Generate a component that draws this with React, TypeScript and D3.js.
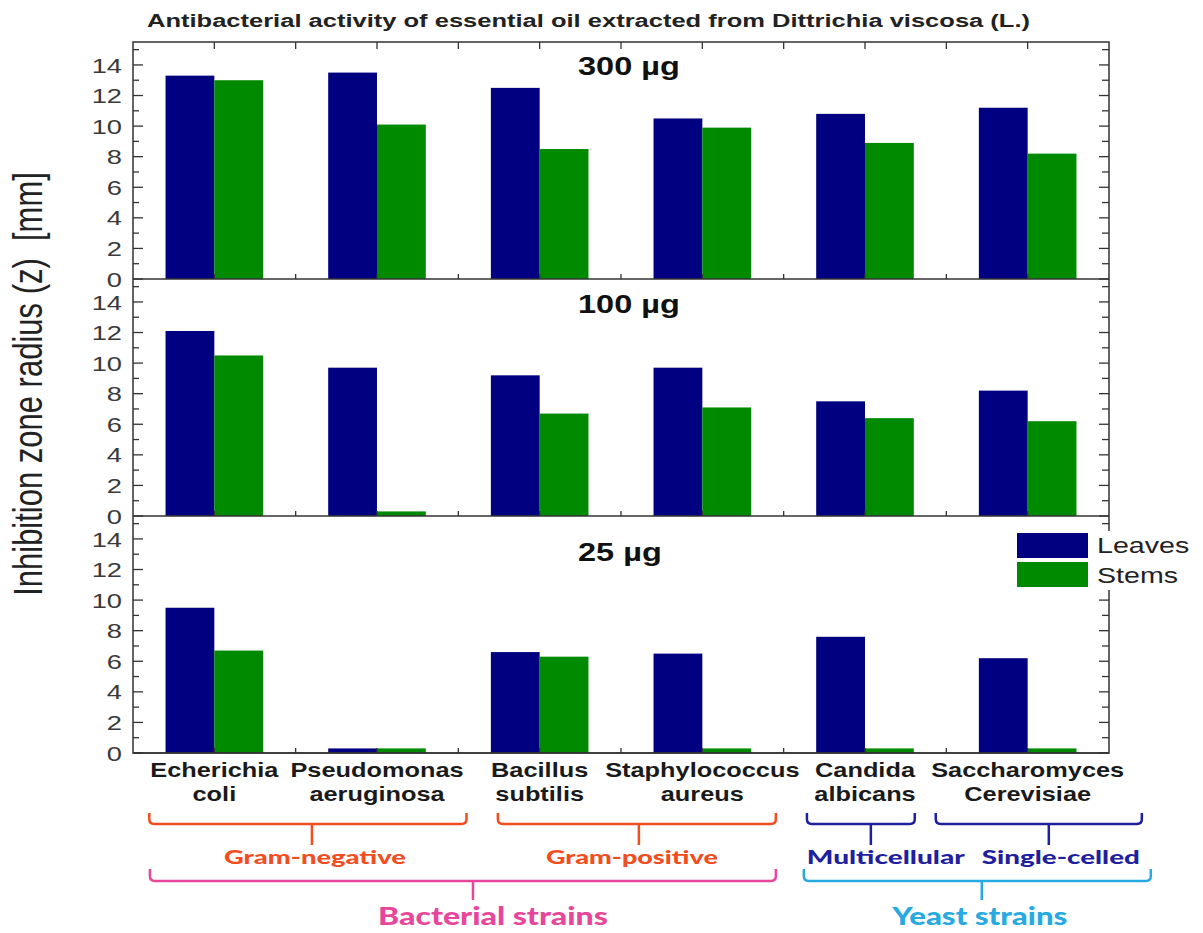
import React from 'react';
import * as d3 from 'd3';

// ---------- data ----------
const categoriesLine1 = ['Echerichia', 'Pseudomonas', 'Bacillus', 'Staphylococcus', 'Candida', 'Saccharomyces'];
const categoriesLine2 = ['coli', 'aeruginosa', 'subtilis', 'aureus', 'albicans', 'Cerevisiae'];
const doseLabels = ['300 \u00b5g', '100 \u00b5g', '25 \u00b5g'];
const seriesNames = ['Leaves', 'Stems'];

const leaves300 = [13.3, 13.5, 12.5, 10.5, 10.8, 11.2];
const stems300 = [13.0, 10.1, 8.5, 9.9, 8.9, 8.2];
const leaves100 = [12.1, 9.7, 9.2, 9.7, 7.5, 8.2];
const stems100 = [10.5, 0.3, 6.7, 7.1, 6.4, 6.2];
const leaves25 = [9.5, 0.3, 6.6, 6.5, 7.6, 6.2];
const stems25 = [6.7, 0.3, 6.3, 0.3, 0.3, 0.3];

const yTickValues = [0, 2, 4, 6, 8, 10, 12, 14];
const yMinorValues = [1, 3, 5, 7, 9, 11, 13, 15];

// bracket annotations (positions in category-index units)
const groupLabels = ['Gram-negative', 'Gram-positive', 'Multicellular', 'Single-celled', 'Bacterial strains', 'Yeast strains'];
const groupFrom = [-0.4, 1.743, 3.643, 4.435, -0.396, 3.624];
const groupTo = [1.55, 3.452, 4.306, 5.702, 3.452, 5.757];
const groupStem = [0.6, 2.61, 4.036, 5.13, 1.59, 4.718];
const groupTextAt = [0.619, 2.567, 4.128, 5.204, 1.713, 4.706];
const groupTextWidth = [182, 172, 158, 158, 230, 175];
const groupLevel = [0, 0, 0, 0, 1, 1];

// ---------- style ----------
const W = 1203;
const H = 933;
const left = 133;
const right = 1109;
const top = 42;
const panelH = 237;
const yMax = 15.5;
const seriesColors = ['#000080', '#008a00'];
const groupColors = ['#f24d1f', '#f24d1f', '#1f1fa0', '#1f1fa0', '#e6479a', '#27aae1'];
const FONT = '"Liberation Sans", Arial, sans-serif';
const SX = 1.3;

const STRETCH = (x: number, y: number, sx = SX) => `translate(${x},${y}) scale(${sx},1)`;

export default function App() {
  const series = [
    [leaves300, stems300],
    [leaves100, stems100],
    [leaves25, stems25],
  ];
  const x = d3.scaleBand<number>().domain(d3.range(categoriesLine1.length)).range([left, right]).padding(0);
  const xi = d3.scaleLinear().domain([-0.5, categoriesLine1.length - 0.5]).range([left, right]);
  const step = x.bandwidth();
  const barW = step * 0.3;
  const halfTicks = d3.range(0, categoriesLine1.length * 2 + 1).map((k) => left + (k * step) / 2).filter((v) => v > left + 1 && v < right - 1);

  const panels = series.map((s, p) => {
    const y0 = top + panelH * (p + 1);
    const y = d3.scaleLinear().domain([0, yMax]).range([y0, y0 - panelH]);
    return { s, y, y0, y1: y0 - panelH };
  });
  const labelBaselines = [75, 313, 561];

  const bracketPath = (x1: number, x2: number, xs: number, yT: number, yH: number, yB: number) => {
    const r = 5;
    return `M${x1},${yT} L${x1},${yH - r} Q${x1},${yH} ${x1 + r},${yH} L${x2 - r},${yH} Q${x2},${yH} ${x2},${yH - r} L${x2},${yT} M${xs},${yH} L${xs},${yB}`;
  };
  const levelY = [
    { t: 813, h: 824, b: 845, text: 864, fs: 19 },
    { t: 869, h: 881, b: 900, text: 925, fs: 24 },
  ];

  return (
    <svg width={W} height={H} style={{ position: 'absolute', left: 0, top: 0, background: '#fff' }} fontFamily={FONT}>
      <rect x={0} y={0} width={W} height={H} fill="#fff" />
      {/* title */}
      <text x={147} y={27} fontSize={18} fontWeight="bold" fill="#222" textLength={883} lengthAdjust="spacingAndGlyphs">
        Antibacterial activity of essential oil extracted from Dittrichia viscosa (L.)
      </text>

      {panels.map((pn, p) => (
        <g key={p}>
          {pn.s.map((vals, si) =>
            vals.map((v, i) => (
              <rect
                key={`${si}-${i}`}
                x={(x(i) as number) + step / 2 - barW + si * barW}
                y={pn.y(v)}
                width={barW}
                height={pn.y0 - pn.y(v)}
                fill={seriesColors[si]}
              />
            ))
          )}
          {/* left & right ticks */}
          {yTickValues.map((t) => (
            <g key={`M${t}`}>
              <line x1={left} x2={left + 10} y1={pn.y(t)} y2={pn.y(t)} stroke="#333" strokeWidth={1.3} />
              <line x1={right} x2={right - 10} y1={pn.y(t)} y2={pn.y(t)} stroke="#333" strokeWidth={1.3} />
              <text transform={STRETCH(122, pn.y(t))} dy="0.36em" textAnchor="end" fontSize={21} fill="#3a3a3a">
                {t}
              </text>
            </g>
          ))}
          {yMinorValues.map((t) => (
            <g key={`m${t}`}>
              <line x1={left} x2={left + 6} y1={pn.y(t)} y2={pn.y(t)} stroke="#333" strokeWidth={1.3} />
              <line x1={right} x2={right - 7} y1={pn.y(t)} y2={pn.y(t)} stroke="#333" strokeWidth={1.3} />
            </g>
          ))}
          {/* bottom ticks */}
          {halfTicks.map((tx) => (
            <line key={tx} x1={tx} x2={tx} y1={pn.y0} y2={pn.y0 - 5} stroke="#333" strokeWidth={1.3} />
          ))}
          <text transform={STRETCH(578, labelBaselines[p])} fontSize={25} fontWeight="bold" fill="#111">
            {doseLabels[p]}
          </text>
          <line x1={left} x2={right} y1={pn.y0} y2={pn.y0} stroke="#333" strokeWidth={1.5} />
        </g>
      ))}

      {/* top ticks */}
      {halfTicks.map((tx) => (
        <line key={`t${tx}`} x1={tx} x2={tx} y1={top} y2={top + 7} stroke="#333" strokeWidth={1.3} />
      ))}
      {/* frame */}
      <rect x={left} y={top} width={right - left} height={panelH * 3} fill="none" stroke="#333" strokeWidth={1.5} />

      {/* legend */}
      <rect x={1012} y={531} width={190} height={59} fill="#fff" />
      {seriesNames.map((n, i) => (
        <g key={n}>
          <rect x={1017} y={533 + i * 29} width={71} height={25} fill={seriesColors[i]} />
          <text transform={STRETCH(1097, 553 + i * 30)} fontSize={22} fill="#222">
            {n}
          </text>
        </g>
      ))}

      {/* y label */}
      <text
        transform={`translate(42,384) scale(${SX},1) rotate(-90)`}
        textAnchor="middle"
        fontSize={31}
        fill="#222"
        style={{ whiteSpace: 'pre' }}
      >
        {'Inhibition zone radius (z)  [mm]'}
      </text>

      {/* category labels */}
      {categoriesLine1.map((c, i) => (
        <g key={c}>
          <text transform={STRETCH(xi(i), 777)} textAnchor="middle" fontSize={19.5} fontWeight="bold" fill="#1a1a1a">
            {c}
          </text>
          <text transform={STRETCH(xi(i), 801)} textAnchor="middle" fontSize={19.5} fontWeight="bold" fill="#1a1a1a">
            {categoriesLine2[i]}
          </text>
        </g>
      ))}

      {/* group brackets */}
      {groupLabels.map((g, k) => {
        const L = levelY[groupLevel[k]];
        const tw = groupTextWidth[k];
        return (
          <g key={g}>
            <path
              d={bracketPath(xi(groupFrom[k]), xi(groupTo[k]), xi(groupStem[k]), L.t, L.h, L.b)}
              fill="none"
              stroke={groupColors[k]}
              strokeWidth={2.5}
            />
            <text
              x={xi(groupTextAt[k]) - tw / 2}
              y={L.text}
              fontFamily='Lato, "Open Sans", sans-serif'
              fontWeight={900}
              fontSize={L.fs}
              fill={groupColors[k]}
              textLength={tw}
              lengthAdjust="spacingAndGlyphs"
            >
              {g}
            </text>
          </g>
        );
      })}
    </svg>
  );
}
